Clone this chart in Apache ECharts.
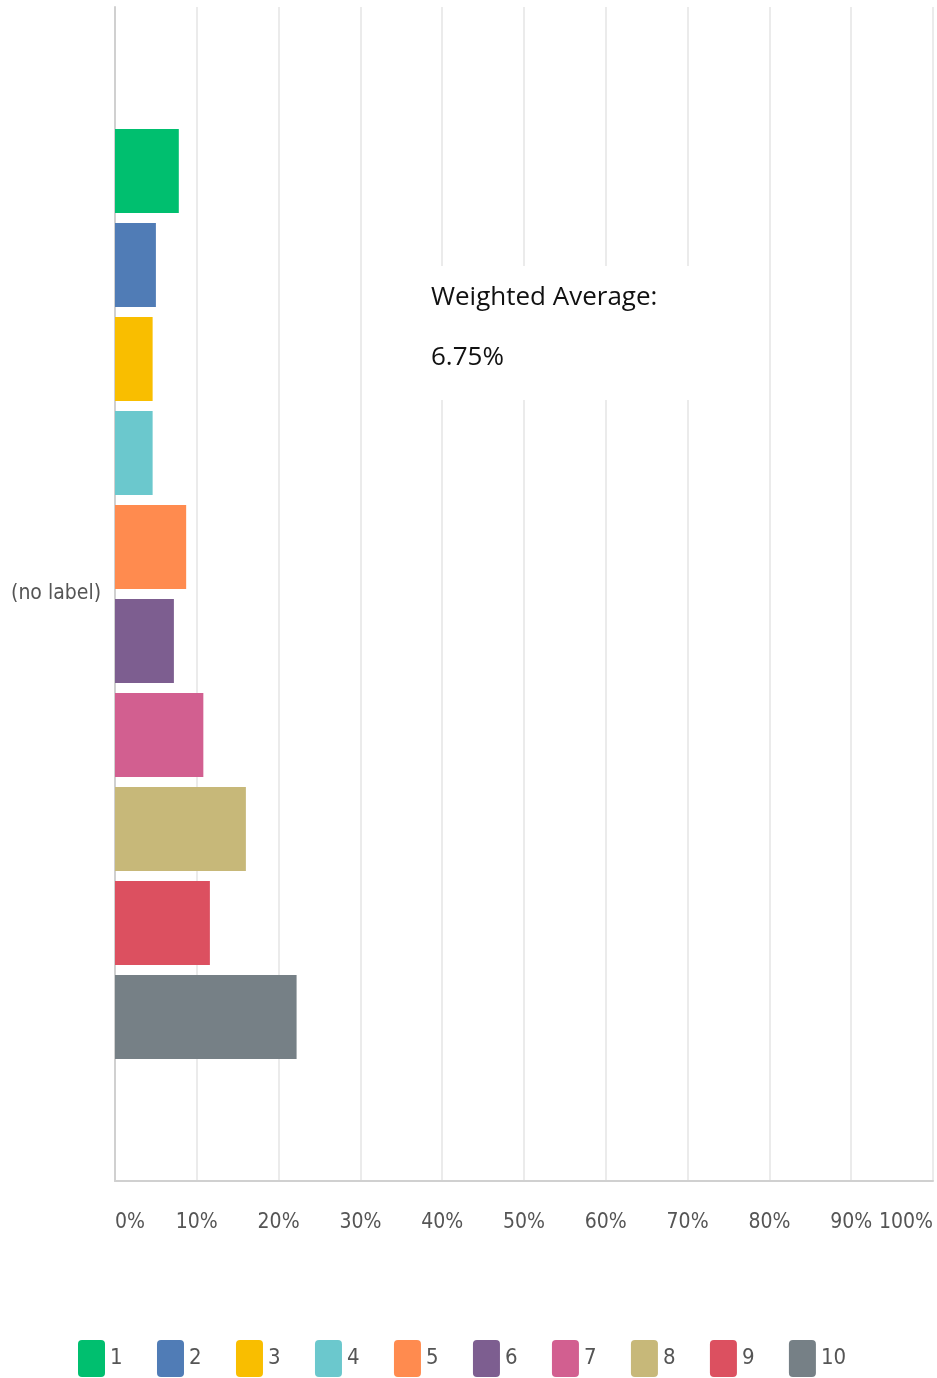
<!DOCTYPE html>
<html><head><meta charset="utf-8">
<script src="https://cdn.jsdelivr.net/npm/echarts@6/dist/echarts.min.js"></script>
<style>html,body{margin:0;padding:0;background:#fff}#c{width:937px;height:1378px}</style>
</head><body><div id="c"></div>
<script>
const categories = ['(no label)'];
const seriesNames = ['1','2','3','4','5','6','7','8','9','10'];
const seriesValues = [7.8, 5.0, 4.6, 4.6, 8.7, 7.2, 10.8, 16.0, 11.6, 22.2];
const seriesColors = ['#00bf6f','#507cb6','#f9be00','#6bc8cd','#ff8b4f','#7d5e90','#d25f90','#c7b879','#dc5060','#768086'];
const avgLabel = 'Weighted Average:';
const avgValue = '6.75%';

const chart = echarts.init(document.getElementById('c'), null, {renderer:'canvas'});
const axisFont = '"Liberation Sans Narrow", "DejaVu Sans Condensed", "Roboto", sans-serif';
const iconPath = 'path://M4,0 H23 Q27,0 27,4 V33 Q27,37 23,37 H4 Q0,37 0,33 V4 Q0,0 4,0 Z';
chart.setOption({
  animation:false,
  grid:{left:115,right:4,top:7,bottom:197,containLabel:false,outerBoundsMode:'none'},
  legend:{
    left:78, top:1340, padding:0, itemWidth:27, itemHeight:37, itemGap:34.4, icon:iconPath,
    textStyle:{fontFamily:axisFont,fontSize:22,color:'#555',padding:[4,0,0,0]},
    data: seriesNames
  },
  xAxis:{
    type:'value', min:0, max:100, interval:10,
    axisLine:{show:true,lineStyle:{color:'#d0d0d0',width:2}},
    axisTick:{show:false},
    splitLine:{show:true,lineStyle:{color:'#ebebeb',width:2}},
    axisLabel:{formatter:'{value}%',margin:31,fontFamily:axisFont,fontSize:21,color:'#555',
      alignMinLabel:'left',alignMaxLabel:'right',showMinLabel:true,showMaxLabel:true,hideOverlap:false}
  },
  yAxis:{
    type:'category', data:categories, inverse:true,
    axisLine:{show:true,lineStyle:{color:'#d0d0d0',width:2}},
    axisTick:{show:false},
    axisLabel:{margin:14,fontFamily:axisFont,fontSize:21,color:'#555'}
  },
  series: seriesNames.map((n,i)=>({
    name:n, type:'bar', data:[seriesValues[i]],
    itemStyle:{color:seriesColors[i]},
    barGap:'12%', barCategoryGap:'20.8%'
  })),
  graphic:[
    {type:'rect',shape:{x:417,y:266,width:276,height:134},style:{fill:'#fff'},z:100},
    {type:'text',left:431,top:285,style:{text:avgLabel,fontFamily:'"Open Sans", sans-serif',fontSize:26,fill:'#111'},z:101},
    {type:'text',left:431,top:345,style:{text:avgValue,fontFamily:'"Open Sans", sans-serif',fontSize:26,fill:'#111'},z:101}
  ]
});
</script></body></html>
